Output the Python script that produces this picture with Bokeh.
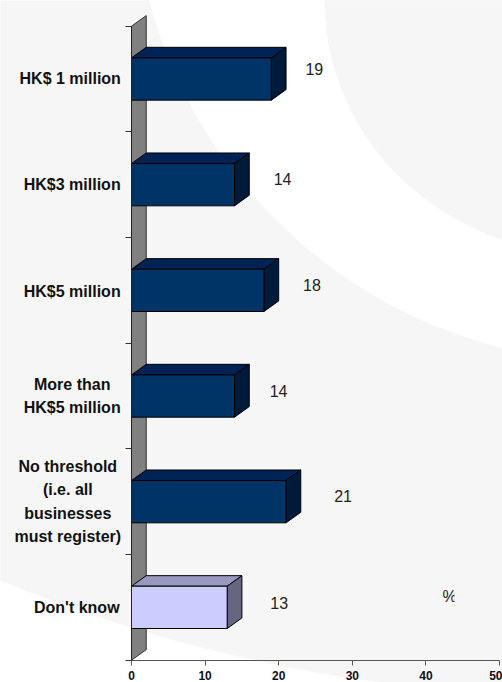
from bokeh.plotting import figure
from bokeh.models import FixedTicker, Range1d, ColumnDataSource
from bokeh.core.properties import value
from bokeh.embed import file_html
from bokeh.resources import INLINE

# --- data -----------------------------------------------------------------
categories = ["HK$ 1 million", "HK$3 million", "HK$5 million",
              "More than\nHK$5 million",
              "No threshold\n(i.e. all\nbusinesses\nmust register)",
              "Don't know"]
values = [19, 14, 18, 14, 21, 13]
x_ticks = [0, 10, 20, 30, 40, 50]
unit_label = "%"

# --- layout / style -------------------------------------------------------
W, H = 502, 682
PX_X = 7.36   # pixels per percent
PX_Y = 105.67 # pixels per category
X0_PX, Y0_PX = 131, 659.7
FONT = value("Liberation Sans")
DEPTH_X = 2.0
DEPTH_Y = 0.1
HALF = 0.2
front = ["#003366"] * 5 + ["#ccccff"]
top = ["#002255"] * 5 + ["#9999bf"]
side = ["#001a3a"] * 5 + ["#666680"]
label_dx = [43, 48, 48, 44, 57, 52]
label_dy = [10, 6, 5.5, 5, 6, 4]
cat_label_cx = [69.7, 71.7, 71.7, 71.7, 67.3, 76.3]
cat_label_dy = [-0.5, 0, 1.5, 0, 0, 0]

fx = lambda px: (px - X0_PX) / PX_X
fy = lambda px: (Y0_PX - px) / PX_Y

p = figure(width=W, height=H, output_backend="svg", toolbar_location=None,
           x_range=Range1d(fx(0), fx(W)), y_range=Range1d(fy(H), fy(0)),
           min_border=0, min_border_left=0, min_border_right=0,
           min_border_top=0, min_border_bottom=0,
           styles={"position": "absolute", "left": "0px", "top": "0px"})
p.outline_line_color = None
p.background_fill_color = "#ffffff"
p.border_fill_color = "#ffffff"
p.grid.visible = False

# background swoosh
BG = "#f6f6f6"
for (cx, cy, a, b, col) in [(575, -807, 1502, 1502, BG),
                            (620, -126, 488, 488, "#ffffff"),
                            (594, 0, 270, 255, BG)]:
    p.ellipse(x=[fx(cx)], y=[fy(cy)], width=[2 * a / PX_X], height=[2 * b / PX_Y],
              fill_color=col, line_color=None)

# wall
n = len(categories)
p.patch([0, DEPTH_X, DEPTH_X, 0], [0, DEPTH_Y, n + DEPTH_Y, n],
        fill_color="#808080", line_color="#333333", line_width=1)

# 3D bars
centers = [n - 0.5 - i for i in range(n)]
lo = [c - HALF for c in centers]
hi = [c + HALF for c in centers]
p.patches([[0, DEPTH_X, v + DEPTH_X, v] for v in values],
          [[h, h + DEPTH_Y, h + DEPTH_Y, h] for h in hi],
          fill_color=top, line_color="#000000", line_width=1)
p.patches([[v, v + DEPTH_X, v + DEPTH_X, v] for v in values],
          [[l, l + DEPTH_Y, h + DEPTH_Y, h] for l, h in zip(lo, hi)],
          fill_color=side, line_color="#000000", line_width=1)
p.quad(left=[0] * n, right=values, bottom=lo, top=hi,
       fill_color=front, line_color="#000000", line_width=1)

# value labels
src = ColumnDataSource(dict(
    x=values, y=centers, t=[str(v) for v in values],
    dx=label_dx, dy=[-d for d in label_dy]))
p.text("x", "y", text="t", x_offset="dx", y_offset="dy", source=src,
       text_font=FONT, text_font_size="16px", text_color="#222222",
       text_align="center", text_baseline="middle")

# category labels (centred blocks, as in the source)
cat = ColumnDataSource(dict(x=[fx(c) for c in cat_label_cx], y=centers,
                            t=categories, dy=cat_label_dy))
p.text("x", "y", text="t", y_offset="dy", source=cat,
       text_font=FONT, text_font_style="bold", text_font_size="16px",
       text_color="#111111", text_align="center", text_baseline="middle",
       text_line_height=1.38)

# unit label, clipped on its right as in the source
p.text([fx(449)], [fy(596)], text=[unit_label], text_font=FONT, text_font_size="16px",
       text_color="#222222", text_align="center", text_baseline="middle")
p.quad(left=[fx(454)], right=[fx(460)], bottom=[fy(606)], top=[fy(586)],
       fill_color=BG, line_color=None)

# axes
xa = p.xaxis[0]
xa.fixed_location = 0
xa.bounds = (x_ticks[0], x_ticks[-1])
xa.ticker = FixedTicker(ticks=x_ticks)
xa.axis_line_color = "#555555"
xa.major_tick_line_color = "#555555"
xa.major_tick_in = 0
xa.major_tick_out = 5
xa.minor_tick_line_color = None
xa.major_label_standoff = 6
xa.major_label_text_font = "Liberation Sans"
xa.major_label_text_font_style = "bold"
xa.major_label_text_font_size = "12px"
xa.major_label_text_color = "#111111"

ya = p.yaxis[0]
ya.fixed_location = 0
ya.bounds = (0, n)
ya.ticker = FixedTicker(ticks=list(range(n + 1)))
ya.axis_line_color = "#222222"
ya.major_tick_line_color = "#333333"
ya.minor_tick_line_color = None
ya.major_tick_in = 0
ya.major_tick_out = 6
ya.major_label_text_font_size = "0px"
ya.major_label_text_color = None

open("out.html", "w").write(file_html(p, INLINE))
